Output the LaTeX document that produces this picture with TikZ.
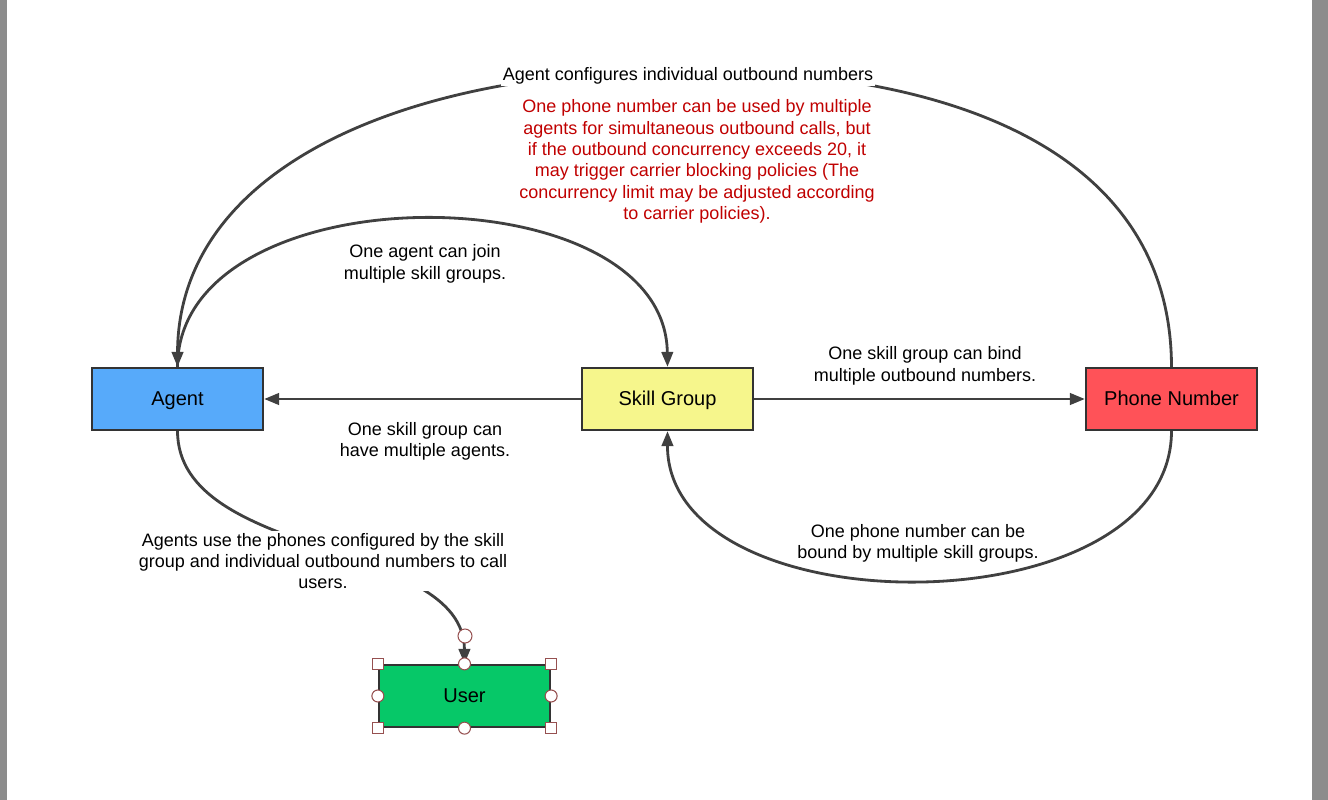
\documentclass[tikz,border=0pt]{standalone}
\usepackage{fontspec}
\setmainfont{Liberation Sans}
\usetikzlibrary{arrows.meta}
\definecolor{agentblue}{RGB}{87,170,250}
\definecolor{skillyellow}{RGB}{246,246,140}
\definecolor{phonered}{RGB}{255,82,88}
\definecolor{usergreen}{RGB}{6,200,104}
\definecolor{edgegray}{RGB}{64,64,64}
\definecolor{notered}{RGB}{192,0,0}
\definecolor{handlered}{RGB}{150,80,80}
\definecolor{framegray}{RGB}{140,140,140}

\begin{document}
\begin{tikzpicture}[x=0.02cm,y=-0.02cm,
	box/.style={draw=edgegray!80!black, line width=1.3pt, inner sep=0pt, minimum width=3.42cm, minimum height=1.24cm, text height=0.916em, text depth=0.2em, font=\fontsize{11.4}{13}\selectfont},
	lbl/.style={align=center, inner sep=1pt, font=\fontsize{10.25}{12.2}\selectfont},
	link/.style={draw=edgegray, line width=1.6pt, -{Triangle[length=8.5pt,width=6.5pt]}},
	grip/.style={draw=handlered, fill=white, line width=0.6pt}]
				\useasboundingbox (0,0) rectangle (1328,800);
				\fill[framegray] (0,0) rectangle (7,800);
				\fill[framegray] (1312,0) rectangle (1328,800);

				\node[box, fill=agentblue] (agent) at (177.5,399) {Agent};
				\node[box, fill=skillyellow] (skill) at (667.5,399) {Skill Group};
				\node[box, fill=phonered] (phone) at (1171.5,399) {Phone Number};
				\node[box, fill=usergreen] (user) at (464.5,696) {User};

				\draw[link] (skill.west) -- (agent.east);
				\draw[link] (skill.east) -- (phone.west);
				\draw[link] (agent.north) .. controls (178,170) and (665,170) .. (skill.north);
				\draw[link] (phone.north) .. controls (1171,150) and (950,70) .. (688,70) .. controls (400,70) and (178,170) .. (agent.north);
				\draw[link] (phone.south) .. controls (1171,630) and (667,630) .. (skill.south);
				\draw[link] (agent.south) .. controls (178,560) and (464,540) .. (user.north);

				\node[lbl, fill=white] (tcfg) at (688,76) {Agent configures individual outbound numbers};
				\node[lbl, text=notered] (tnote) at (697,161.5) {One phone number can be used by multiple\\agents for simultaneous outbound calls, but\\if the outbound concurrency exceeds 20, it\\may trigger carrier blocking policies (The\\concurrency limit may be adjusted according\\to carrier policies).};
				\node[lbl] (tjoin) at (425,264) {One agent can join\\multiple skill groups.};
				\node[lbl] (thave) at (425,441.5) {One skill group can\\have multiple agents.};
				\node[lbl] (tbind) at (925,366) {One skill group can bind\\multiple outbound numbers.};
				\node[lbl] (tbound) at (918,543.5) {One phone number can be\\bound by multiple skill groups.};
				\node[lbl, fill=white] (tcall) at (323,561) {Agents use the phones configured by the skill\\group and individual outbound numbers to call\\users.};

				\foreach \c in {north west,north east,south west,south east}
					\draw[grip] (user.\c) ++(-5.5,-5.5) rectangle ++(11,11);
				\foreach \c in {north,south,east,west}
					\draw[grip] (user.\c) circle[radius=0.12cm];
				\draw[grip] (465,636) circle[radius=0.14cm];
			\end{tikzpicture}
\end{document}
